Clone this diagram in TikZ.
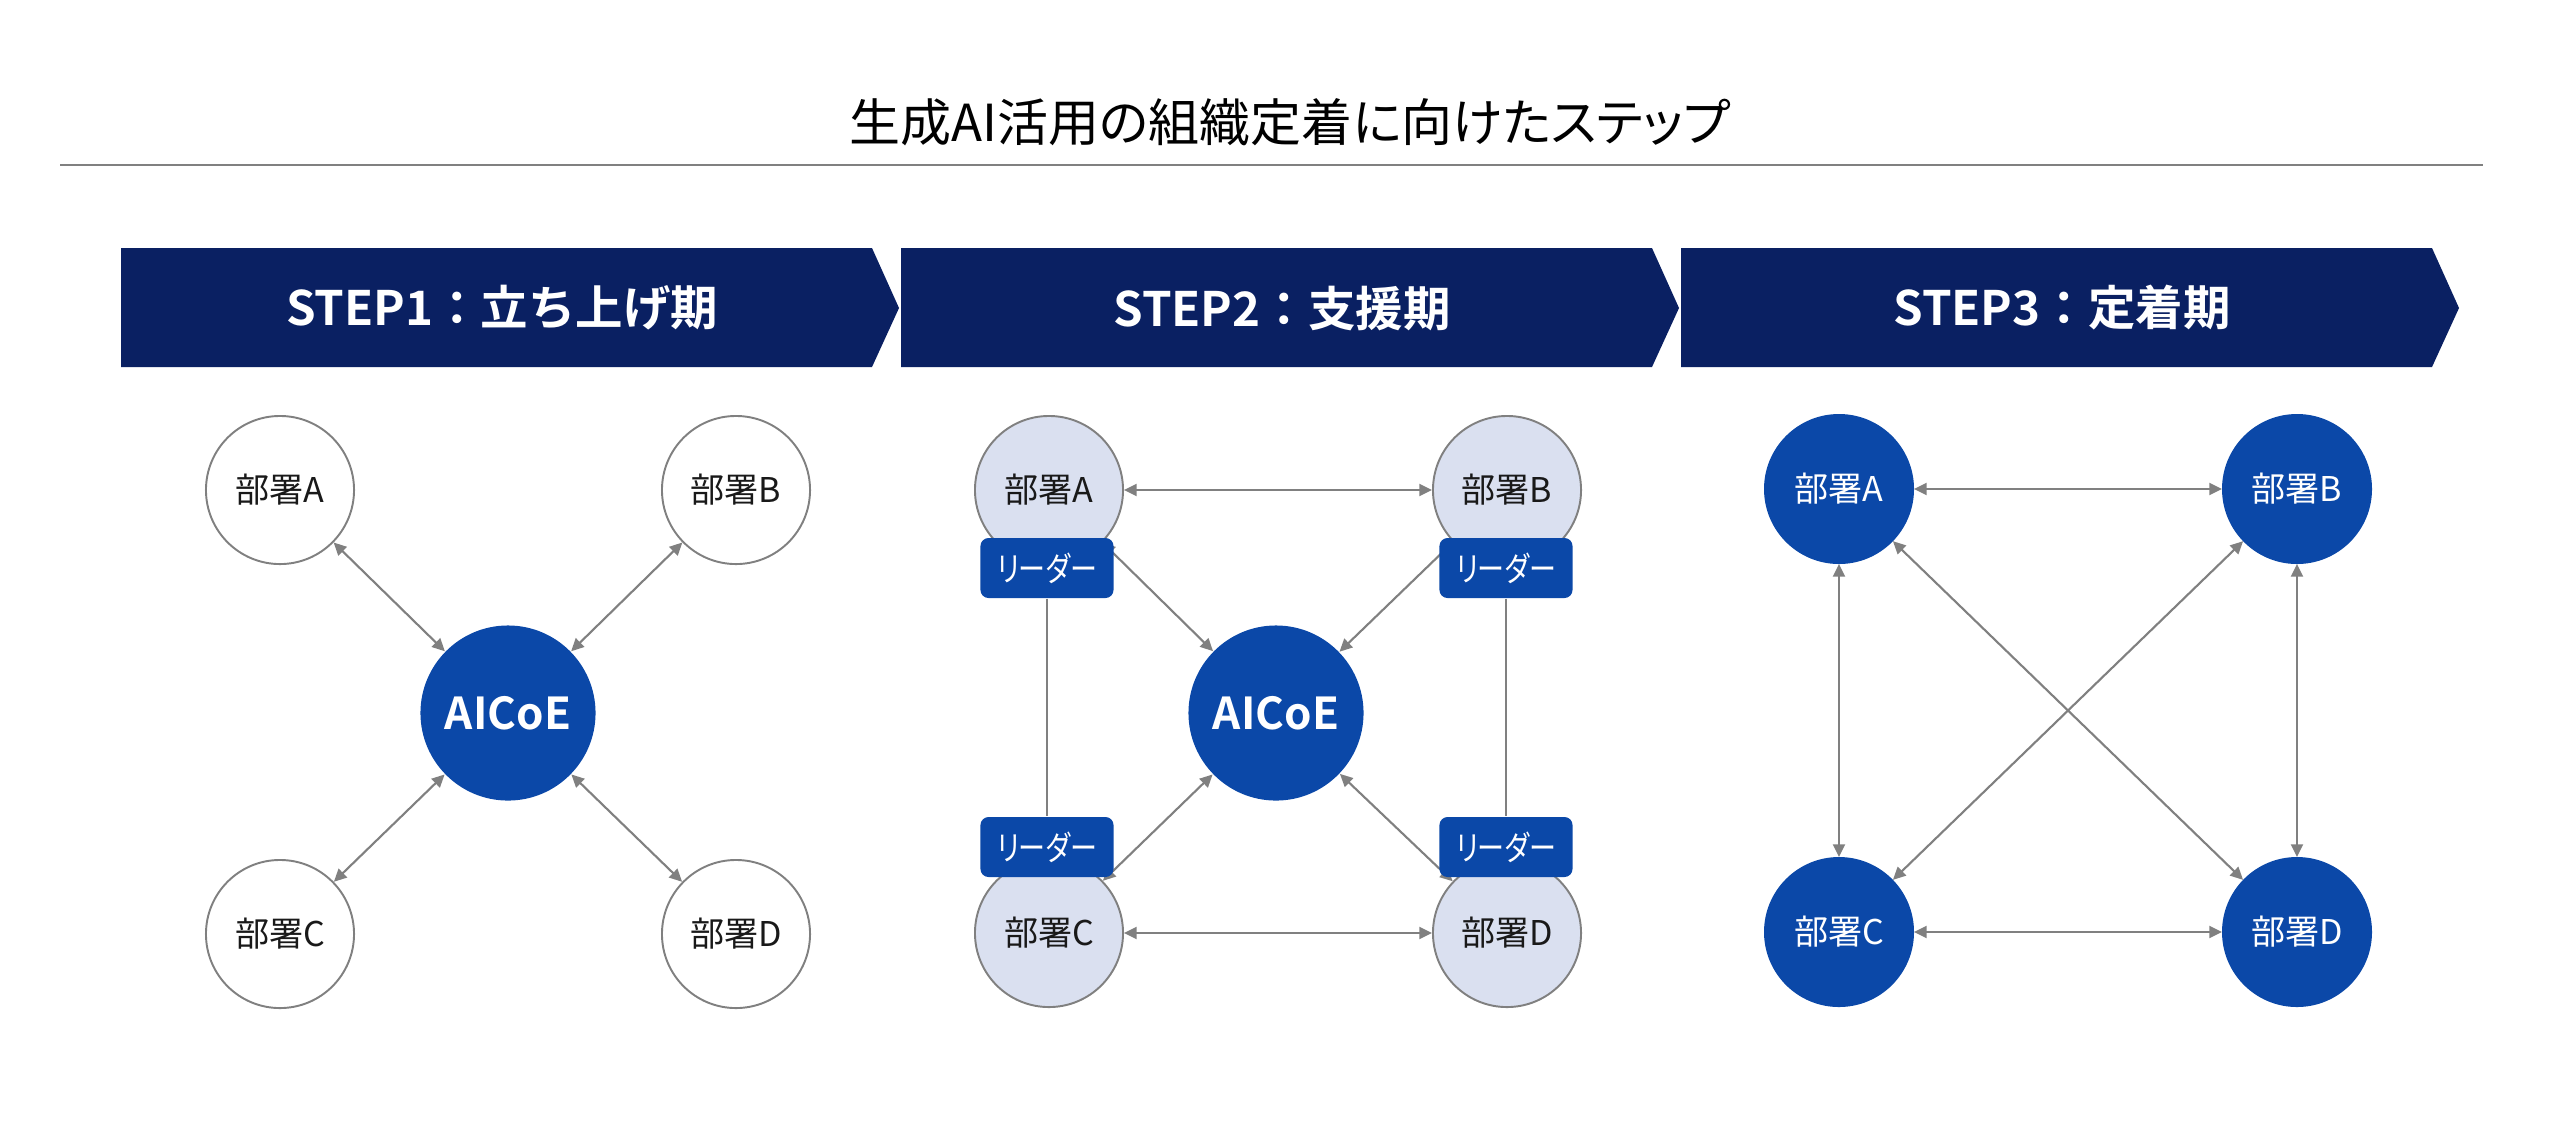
\documentclass[tikz,border=0pt]{standalone}
\usepackage{fontspec}
\setmainfont{Noto Sans CJK JP}[BoldFont={Noto Sans CJK JP Bold}, RawFeature=+palt]
\newfontfamily\plainjp{Noto Sans CJK JP}[BoldFont={Noto Sans CJK JP Bold}]
\newfontfamily\narrowjp{Noto Sans CJK JP}[FakeStretch=0.8, RawFeature=+palt]
\usetikzlibrary{arrows.meta, positioning}
\definecolor{navyBlue}{HTML}{0A2062}
\definecolor{coeBlue}{HTML}{0B48A8}
\definecolor{paleBlue}{HTML}{DAE0F0}
\definecolor{lineGrey}{HTML}{808080}
\tikzset{
  titletext/.style  = {font=\fontsize{14.5}{17}\selectfont, text=black},
  rule/.style       = {lineGrey, line width=0.6pt},
  bannertext/.style = {font=\plainjp\bfseries\fontsize{13.5}{16}\selectfont, text=white},
  dept/.style       = {circle, draw=lineGrey, line width=0.55pt, minimum size=1.48cm,
                       inner sep=0pt, font=\fontsize{9.7}{11}\selectfont, text=black!90},
  deptlight/.style  = {dept, fill=paleBlue},
  deptdark/.style   = {dept, fill=coeBlue, draw=coeBlue, text=white},
  coe/.style        = {circle, fill=coeBlue, minimum size=1.75cm, inner sep=0pt,
                       text=white, font=\bfseries\fontsize{12.5}{14}\selectfont},
  leader/.style     = {rectangle, rounded corners=2.3pt, fill=coeBlue, minimum width=1.33cm,
                       minimum height=0.6cm, inner sep=0pt, text=white,
                       font=\narrowjp\fontsize{9.6}{11}\selectfont},
  link/.style       = {{Triangle[length=3.6pt, width=3.4pt]}-{Triangle[length=3.6pt, width=3.4pt]},
                       lineGrey, line width=0.6pt},
  plainlink/.style  = {lineGrey, line width=0.5pt},
}
\begin{document}
\begin{tikzpicture}[x=0.01cm, y=-0.01cm]
  \useasboundingbox (0,0) rectangle (2560,1144);
  \node[titletext] (title) at (1290,122) {生成AI活用の組織定着に向けたステップ};
  \draw[rule] (60,165) -- (2483,165);
  % step banners
  \foreach \i/\t in {0/STEP1：立ち上げ期, 1/STEP2：支援期, 2/STEP3：定着期} {
    \fill[navyBlue] ({121+780*\i},248) -- ++(751,0) -- ++(27,60) -- ++(-27,59) -- ++(-751,0) -- cycle;
    \node[bannertext] (s\i) at ({502+780*\i},308) {\t};
  }
  % step 1
  \node[coe] (coe1) at (508,713) {AICoE};
  \foreach \d/\x/\y in {A/280/490, B/736/490, C/280/934, D/736/934}
    \node[dept] (p1\d) at (\x,\y) {部署\d};
  \foreach \d in {A,B,C,D} \draw[link] (p1\d) -- (coe1);
  % step 2
  \node[coe] (coe2) at (1276,713) {AICoE};
  \foreach \d/\x/\y in {A/1049/490, B/1507/490, C/1049/933, D/1507/933}
    \node[deptlight] (p2\d) at (\x,\y) {部署\d};
  \draw[link] (p2A) -- (p2B);
  \draw[link] (p2C) -- (p2D);
  \foreach \d in {A,B,C,D} \draw[link] (p2\d) -- (coe2);
  \foreach \d/\x/\y in {A/1047/568, B/1506/568, C/1047/847, D/1506/847}
    \node[leader] (l2\d) at (\x,\y) {リーダー};
  \draw[plainlink] (l2A) -- (l2C);
  \draw[plainlink] (l2B) -- (l2D);
  % step 3
  \foreach \d/\x/\y in {A/1839/489, B/2297/489, C/1839/932, D/2297/932}
    \node[deptdark] (p3\d) at (\x,\y) {部署\d};
  \foreach \u/\v in {A/B, C/D, A/C, B/D, A/D, B/C} \draw[link] (p3\u) -- (p3\v);
\end{tikzpicture}
\end{document}
